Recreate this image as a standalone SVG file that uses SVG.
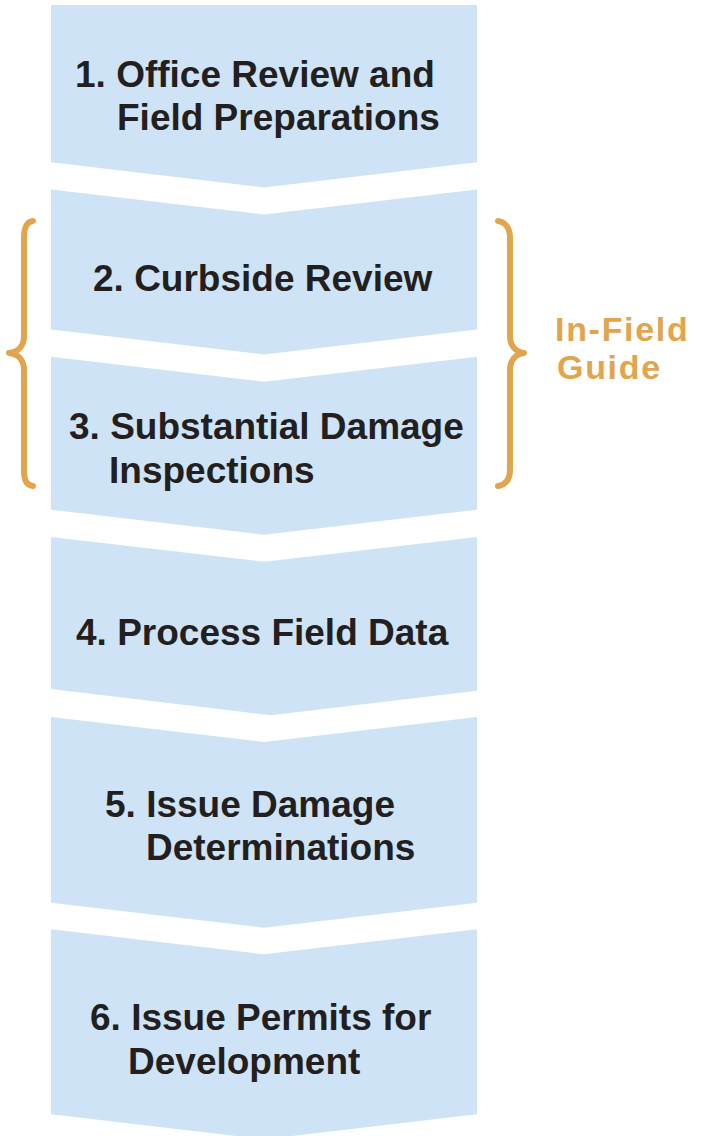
<svg xmlns="http://www.w3.org/2000/svg" width="701" height="1136" viewBox="0 0 701 1136">
  <style>
    .step { fill: #CEE4F6; }
    .label { font-family: "Liberation Sans", Arial, sans-serif; font-weight: bold; font-size: 37px; fill: #231F20; }
    .brace { fill: none; stroke: #E1A54E; stroke-width: 6; stroke-linecap: round; stroke-linejoin: round; }
    .note { font-family: "Liberation Sans", Arial, sans-serif; font-weight: bold; font-size: 34px; fill: #E1A54E; letter-spacing: 1.7px; }
  </style>
  <rect width="701" height="1136" fill="#FFFFFF"/>

  <!-- process steps as stacked chevrons -->
  <g id="step1">
    <polygon class="step" points="51,5 477,5 477,162.3 264,187.5 51,162.3"/>
    <text class="label" x="75" y="87">1. Office Review and</text>
    <text class="label" x="117" y="130">Field Preparations</text>
  </g>
  <g id="step2">
    <polygon class="step" points="51,189.5 264,214.5 477,189.5 477,329.5 264,354.5 51,329.5"/>
    <text class="label" x="93" y="291">2. Curbside Review</text>
  </g>
  <g id="step3">
    <polygon class="step" points="51,356.7 264,381.7 477,356.7 477,509.7 264,534.7 51,509.7"/>
    <text class="label" x="69" y="439">3. Substantial Damage</text>
    <text class="label" x="109" y="483">Inspections</text>
  </g>
  <g id="step4">
    <polygon class="step" points="51,537 264,561.7 477,537 477,690.7 271,715.3 51,689"/>
    <text class="label" x="76" y="645">4. Process Field Data</text>
  </g>
  <g id="step5">
    <polygon class="step" points="51,717 264,742 477,717 477,902.7 264,927.7 51,902.7"/>
    <text class="label" x="105" y="817">5. Issue Damage</text>
    <text class="label" x="146" y="860">Determinations</text>
  </g>
  <g id="step6">
    <polygon class="step" points="51,929.3 264,954.3 477,929.3 477,1114.3 264,1139.3 51,1114.3"/>
    <text class="label" x="90" y="1030">6. Issue Permits for</text>
    <text class="label" x="128" y="1074">Development</text>
  </g>

  <!-- braces grouping steps 2 and 3 -->
  <g id="connectors">
    <path class="brace" d="M33,221 C26,222 24,228 24,238 L24,336 C24,346 18,352 9,353 C18,354 24,360 24,370 L24,470 C24,480 26,485 33,486"/>
    <path class="brace" d="M498,221 C505,222 510,228 510,238 L510,336 C510,346 516,352 524,353 C516,354 510,360 510,370 L510,470 C510,480 505,485 498,486"/>
  </g>

  <g id="in-field-guide">
    <text class="note" x="555" y="341">In-Field</text>
    <text class="note" x="557" y="379">Guide</text>
  </g>
</svg>
